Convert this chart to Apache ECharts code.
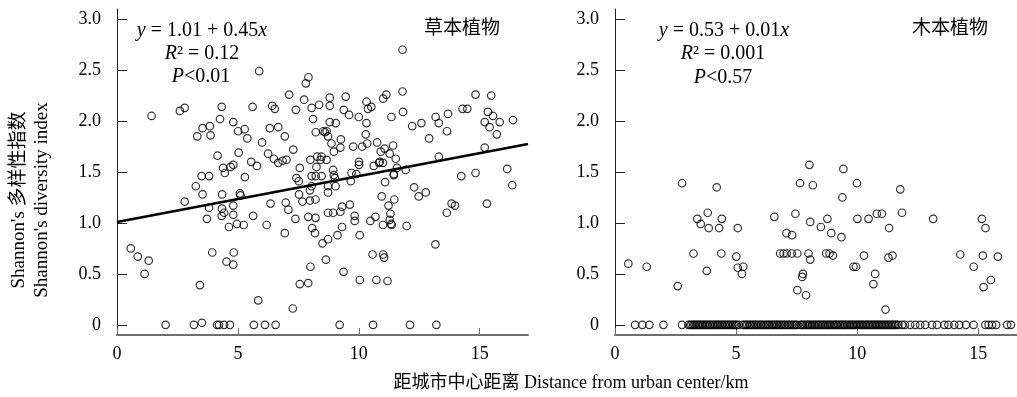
<!DOCTYPE html>
<html>
<head>
<meta charset="utf-8">
<script src="https://cdn.jsdelivr.net/npm/echarts@6.0.0/dist/echarts.min.js"></script>
<style>
  html, body { margin: 0; padding: 0; background: #fff; }
  #chart { width: 1017px; height: 397px; }
</style>
</head>
<body>
<div id="chart"></div>
<script>
// Herbaceous plants: [distance km, Shannon index]
const herbPoints = [
  [5.88,2.49],[7.92,2.43],[7.81,2.37],[7.12,2.26],[1.43,2.05],[2.60,2.10],[2.80,2.13],[4.33,2.14],
  [5.61,2.14],[6.42,2.15],[6.53,2.12],[7.40,2.11],[7.74,2.21],[8.05,2.13],[8.36,2.16],[4.26,2.02],
  [4.81,1.99],[3.54,1.93],[3.84,1.95],[3.32,1.85],[3.87,1.86],[5.01,1.90],[5.28,1.92],[5.39,1.83],
  [6.00,1.79],[6.32,1.93],[6.67,1.94],[6.94,1.85],[8.11,2.02],[8.22,1.89],[8.53,1.90],
  [4.16,1.66],[5.03,1.69],[5.55,1.60],[5.79,1.56],[6.25,1.68],[6.49,1.63],[6.67,1.59],[6.85,1.61],
  [7.01,1.62],[7.29,1.72],[4.39,1.54],[4.46,1.49],[4.70,1.55],[4.81,1.57],[5.29,1.45],[3.50,1.46],
  [3.81,1.46],[7.56,1.54],[8.00,1.62],[8.28,1.65],[8.25,1.55],[7.42,1.44],[8.05,1.46],[8.22,1.46],
  [8.46,1.46],
  [3.26,1.36],[3.54,1.28],[4.35,1.28],[5.08,1.29],[5.11,1.27],[2.80,1.21],[3.81,1.15],[4.34,1.14],
  [4.43,1.10],[4.33,1.07],[4.81,1.17],[4.81,1.08],[3.72,1.04],[4.63,0.96],[4.96,0.99],[5.24,0.98],
  [5.63,1.07],[6.19,0.98],[6.35,1.19],[6.98,1.20],[7.09,1.13],[6.94,0.90],[7.38,1.04],[7.52,1.41],
  [7.53,1.28],[7.67,1.21],[7.98,1.22],[8.21,1.23],[7.98,1.32],[8.05,1.36],[7.91,1.06],[8.21,1.05],
  [8.07,0.95],[8.19,0.90],[8.50,0.80],[8.73,0.84],[8.73,1.10],[8.64,0.64],[8.73,1.30],[8.73,1.36],
  [0.57,0.75],[0.86,0.67],[1.31,0.63],[1.14,0.50],[3.94,0.71],[4.53,0.62],[4.81,0.59],[4.83,0.71],
  [3.43,0.39],[5.84,0.24],[7.27,0.16],[7.56,0.40],[7.91,0.41],[8.00,0.57],
  [2.01,0],[3.18,0],[3.51,0.02],[4.14,0],[4.22,0],[4.43,0],[4.67,0],[5.66,0],[6.12,0],[6.56,0],
  [9.21,0],[10.59,0],[12.12,0],[13.21,0],
  [10.04,0.44],[10.73,0.44],[11.19,0.43],[9.37,0.52],[10.57,0.69],[11.01,0.69],[11.05,0.66],
  [13.17,0.79],[9.12,0.88],[9.31,0.96],[10.04,0.88],[8.94,1.10],[9.24,1.11],[9.31,1.16],[9.63,1.18],
  [9.83,1.07],[9.83,1.02],[10.48,1.02],[10.69,1.06],[11.00,0.98],[11.31,1.09],[11.28,1.03],
  [11.34,0.99],[11.36,0.98],[11.23,1.17],[11.47,1.23],[10.95,1.26],[11.98,0.97],[11.09,1.40],
  [11.45,1.47],[12.29,1.35],[12.48,1.26],[12.77,1.30],[13.64,1.10],[13.84,1.19],[13.98,1.17],
  [15.30,1.19],[16.35,1.37],[9.04,1.36],[9.67,1.41],
  [11.81,2.70],[11.81,2.29],[8.80,2.23],[8.80,2.15],[9.46,2.24],[10.32,2.19],[10.52,2.14],
  [10.38,2.12],[11.01,2.22],[11.14,2.26],[9.38,2.11],[9.60,2.06],[10.00,2.04],[11.35,2.04],
  [11.83,2.09],[8.80,1.99],[9.05,1.98],[10.32,1.98],[12.21,1.95],[12.59,1.98],[13.18,2.04],
  [13.31,1.98],[13.69,2.07],[14.29,2.12],[14.49,2.12],[14.83,2.26],[15.48,2.25],[15.34,2.09],
  [15.55,2.05],[15.83,1.99],[16.38,2.01],[15.21,1.99],[15.41,1.94],[15.71,1.87],[8.67,1.90],
  [8.60,1.89],[8.73,1.85],[9.26,1.82],[8.87,1.78],[8.97,1.70],[9.24,1.74],[9.77,1.75],[10.14,1.75],
  [10.29,1.87],[10.35,1.78],[10.76,1.79],[11.07,1.73],[11.42,1.76],[10.91,1.70],[11.28,1.68],
  [11.53,1.63],[12.91,1.83],[13.65,1.90],[10.01,1.60],[10.01,1.57],[10.62,1.56],[10.84,1.59],
  [10.87,1.60],[11.00,1.59],[11.45,1.48],[11.58,1.54],[11.94,1.52],[13.31,1.65],[15.21,1.74],
  [14.24,1.46],[14.83,1.49],[16.14,1.53],[9.70,1.49],[9.90,1.48],[8.46,1.65],[8.42,1.62],
  [8.67,1.62],[8.94,1.52],[8.97,1.47],[9.01,1.44]
];

// Woody plants: non-zero values
const woodyPoints = [
  [0.55,0.60],[1.31,0.57],[2.59,0.38],[2.77,1.39],[4.20,1.35],[3.24,0.70],[3.40,1.04],[3.54,0.99],
  [3.83,1.10],[3.87,0.95],[3.79,0.53],[4.30,0.95],[4.41,1.04],[4.39,0.70],[5.07,0.95],[5.01,0.67],
  [5.07,0.56],[5.24,0.50],[5.30,0.57],[6.58,1.06],[7.08,0.90],[7.31,0.88],[7.45,1.09],[7.64,1.39],
  [8.06,1.01],[6.82,0.70],[6.96,0.70],[7.09,0.70],[7.30,0.70],[7.53,0.70],[7.99,0.70],[8.06,0.64],
  [7.76,0.50],[7.73,0.47],[7.53,0.34],[7.89,0.29],[8.03,1.57],[8.17,1.37],[9.43,1.53],[9.99,1.39],
  [11.78,1.33],[9.39,1.25],[8.50,0.96],[8.77,1.04],[8.93,0.90],[9.35,0.86],[10.01,1.04],[10.47,1.04],
  [10.81,1.09],[11.02,1.09],[11.32,0.95],[11.85,1.10],[13.14,1.04],[15.15,1.04],[15.30,0.95],
  [8.72,0.70],[8.86,0.70],[9.00,0.68],[9.85,0.57],[9.95,0.57],[10.28,0.68],[10.74,0.50],[10.67,0.40],
  [11.29,0.66],[11.46,0.68],[11.17,0.15],[14.26,0.69],[14.81,0.57],[15.19,0.68],[15.81,0.67],
  [15.52,0.44],[15.22,0.37]
];

// Woody plants: sites where the index is 0 (distance only); the 3-12 km band is packed
const woodyZeroDist = [
  0.83,1.13,1.42,2.00,2.77,
  3.03,3.10,3.16,3.23,3.28,3.35,3.41,3.47,3.52,3.59,3.64,3.71,3.77,3.83,3.90,3.95,4.02,4.08,4.14,
  4.21,4.26,4.33,4.40,4.45,4.52,4.58,4.65,4.70,4.77,4.84,4.90,4.96,5.03,5.10,
  5.28,5.35,5.42,5.47,5.55,5.61,5.67,5.74,5.80,5.86,5.93,6.00,6.05,6.12,6.19,6.26,6.32,6.38,
  6.46,6.52,6.58,6.65,6.71,6.78,6.85,6.91,6.98,7.04,7.12,7.18,7.25,7.31,7.38,7.45,7.52,
  7.66,7.72,7.77,7.84,7.90,7.96,8.02,8.07,8.14,8.20,8.25,8.32,8.38,8.43,8.50,8.56,8.61,8.68,
  8.74,8.80,8.86,8.91,8.98,9.04,9.10,9.15,9.22,9.28,9.34,9.40,9.46,9.51,9.58,9.64,9.70,9.76,
  9.82,9.87,9.94,10.00,10.06,10.12,10.18,10.23,10.30,10.36,10.42,10.48,10.54,10.60,10.66,
  10.72,10.78,10.84,10.90,10.96,11.02,11.08,11.14,11.20,11.26,11.32,11.38,11.44,11.50,11.56,
  11.62,11.70,
  11.85,11.97,12.19,12.40,12.60,12.81,13.09,13.30,13.60,13.77,14.01,14.22,14.49,14.81,
  15.29,15.43,15.57,15.74,16.19,16.35
];

// Fitted line for herbaceous plants: intercept, slope (as drawn)
const herbFit = [1.01, 0.045];
const herbFitX = [0, 17];

const yTicks = [0, 0.5, 1, 1.5, 2, 2.5, 3];
const xTicks = [0, 5, 10, 15];

const serif = '"Liberation Serif", "Times New Roman", "Noto Sans CJK SC", serif';
const cjk = '"Noto Sans CJK SC", "Liberation Serif", serif';

function makeX(idx, max) {
  return {
    type: 'value', gridIndex: idx, min: 0, max: max,
    axisLine: { show: true, onZero: false, lineStyle: { color: '#6e6e6e', width: 2 } },
    axisTick: { show: true, inside: true, length: 7, customValues: xTicks, lineStyle: { color: '#6e6e6e', width: 1 } },
    axisLabel: { customValues: xTicks, margin: 10, color: '#000', fontSize: 18, fontFamily: serif },
    splitLine: { show: false }
  };
}
function makeY(idx) {
  return {
    type: 'value', gridIndex: idx, min: -0.1, max: 3.1,
    axisLine: { show: true, onZero: false, lineStyle: { color: '#222', width: 1 } },
    axisTick: { show: true, inside: true, length: 10, customValues: yTicks, lineStyle: { color: '#222' } },
    axisLabel: {
      customValues: yTicks, margin: 16, color: '#000', fontSize: 18, fontFamily: serif,
      formatter: v => (v === 0 ? '0' : v.toFixed(1))
    },
    splitLine: { show: false }
  };
}

const circle = { color: 'transparent', borderColor: '#000', borderWidth: 1.2 };

const rich = {
  i: { fontStyle: 'italic', fontSize: 20, fontFamily: serif, fill: '#000' },
  n: { fontSize: 20, fontFamily: serif, fill: '#000' }
};
function note(cx, cy, text) {
  return { type: 'text', x: cx, y: cy, style: { text: text, rich: rich, align: 'center', verticalAlign: 'middle', fontSize: 20, fontFamily: serif, fill: '#000' } };
}

const chart = echarts.init(document.getElementById('chart'), null, { renderer: 'canvas' });
chart.setOption({
  animation: false,
  backgroundColor: '#fff',
  grid: [
    { left: 117, top: 9, width: 411, height: 326 },
    { left: 615, top: 9, width: 402, height: 326 }
  ],
  xAxis: [makeX(0, 17), makeX(1, 16.6)],
  yAxis: [makeY(0), makeY(1)],
  series: [
    {
      type: 'scatter', xAxisIndex: 0, yAxisIndex: 0, symbol: 'circle', symbolSize: 7.5,
      itemStyle: circle, data: herbPoints, clip: false
    },
    {
      type: 'line', xAxisIndex: 0, yAxisIndex: 0, symbol: 'none',
      lineStyle: { color: '#000', width: 2.5 },
      data: herbFitX.map(x => [x, herbFit[0] + herbFit[1] * x])
    },
    {
      type: 'scatter', xAxisIndex: 1, yAxisIndex: 1, symbol: 'circle', symbolSize: 7.5,
      itemStyle: circle, clip: false,
      data: woodyPoints.concat(woodyZeroDist.map(x => [x, 0]))
    }
  ],
  graphic: [
    note(202, 31, '{i|y}{n| = 1.01 + 0.45}{i|x}'),
    note(202, 54, '{i|R}{n|² = 0.12}'),
    note(201, 77, '{i|P}{n|<0.01}'),
    note(724, 31, '{i|y}{n| = 0.53 + 0.01}{i|x}'),
    note(723, 54, '{i|R}{n|² = 0.001}'),
    note(723, 78, '{i|P}{n|<0.57}'),
    { type: 'text', x: 462, y: 27, style: { text: '草本植物', align: 'center', verticalAlign: 'middle', fontSize: 19, fontFamily: cjk, fill: '#000' } },
    { type: 'text', x: 950, y: 27, style: { text: '木本植物', align: 'center', verticalAlign: 'middle', fontSize: 19, fontFamily: cjk, fill: '#000' } },
    { type: 'text', x: 19, y: 200, rotation: Math.PI / 2, style: { text: 'Shannon\'s 多样性指数', align: 'center', verticalAlign: 'middle', fontSize: 19, fontFamily: serif, fill: '#000' } },
    { type: 'text', x: 42, y: 200, rotation: Math.PI / 2, style: { text: 'Shannon\'s diversity index', align: 'center', verticalAlign: 'middle', fontSize: 19, fontFamily: serif, fill: '#000' } },
    { type: 'text', x: 571, y: 383, style: { text: '距城市中心距离 Distance from urban center/km', align: 'center', verticalAlign: 'middle', fontSize: 18, fontFamily: serif, fill: '#000' } }
  ]
});
</script>
</body>
</html>
